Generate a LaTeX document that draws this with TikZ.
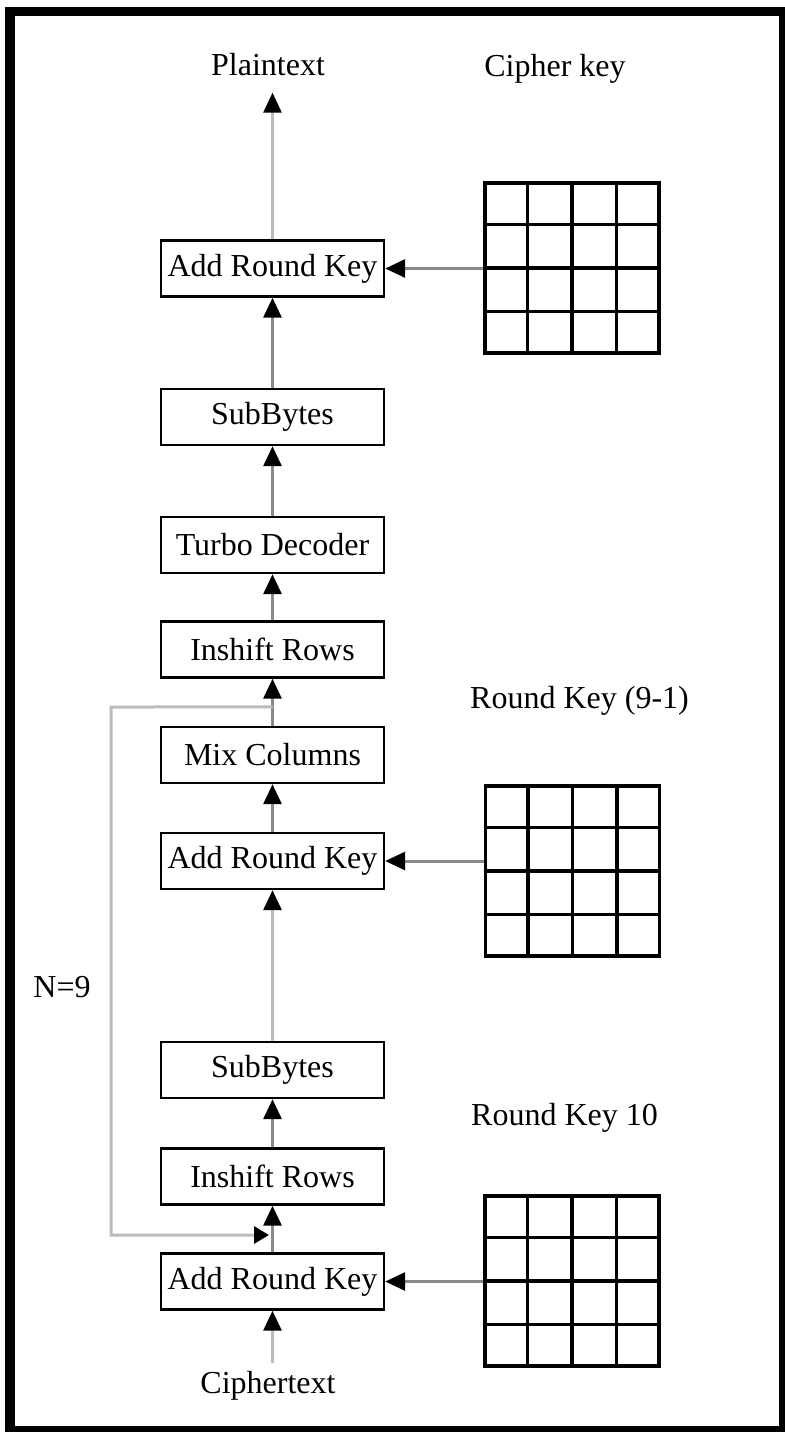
\documentclass[tikz,border=0pt]{standalone}
\usepackage{fontspec}
\setmainfont{Liberation Serif}
\usetikzlibrary{arrows.meta,calc}
\definecolor{linkdark}{HTML}{8A8A8A}
\definecolor{linklight}{HTML}{BBBBBB}

\begin{document}
\begin{tikzpicture}[x=0.5pt,y=-0.5pt,
  lettering/.style={font=\fontsize{16}{19}\selectfont},
  stage/.style={lettering, draw=black, line width=1.2pt, fill=white,
    minimum width=111.5pt, minimum height=28pt, inner sep=0pt},
  keygrid/.style={draw=black, line width=1.7pt, minimum width=87pt,
    minimum height=85pt, inner sep=0pt},
  gridline/.style={draw=black, line width=1.7pt},
  caption/.style={lettering, inner sep=0pt, anchor=base},
  flow/.style={draw=linkdark, line width=1.5pt,
    -{Triangle[length=10pt,width=9pt,color=black]}},
  feed/.style={flow, draw=linklight},
]
% frame
\useasboundingbox (0,0) rectangle (785,1435);
\fill[black] (5,7) rectangle (785,1432);
\fill[white] (15,16) rectangle (779,1426);

% processing chain (bottom to top)
\node[stage] (ark3) at (272.5,1281.5) {Add Round Key};
\node[stage] (ins2) at (272.5,1176.5) {Inshift Rows};
\node[stage] (sub2) at (272.5,1070)   {SubBytes};
\node[stage] (ark2) at (272.5,861)    {Add Round Key};
\node[stage] (mix)  at (272.5,755)    {Mix Columns};
\node[stage] (ins1) at (272.5,649.5)  {Inshift Rows};
\node[stage] (turbo) at (272.5,545)   {Turbo Decoder};
\node[stage] (sub1) at (272.5,417)    {SubBytes};
\node[stage] (ark1) at (272.5,268.5)  {Add Round Key};

% key matrices
\node[keygrid] (key1) at (572,268) {};
\node[keygrid] (key2) at (572.5,871) {};
\node[keygrid] (key3) at (572,1281) {};
\foreach \k in {key1,key2,key3}{
  \foreach \f in {0.25,0.5,0.75}{
    \draw[gridline] ($(\k.north west)!\f!(\k.north east)$) -- ($(\k.south west)!\f!(\k.south east)$);
    \draw[gridline] ($(\k.north west)!\f!(\k.south west)$) -- ($(\k.north east)!\f!(\k.south east)$);
  }
}

% captions
\node[caption] (pt) at (268,75) {Plaintext};
\node[caption] (ck) at (555,76) {Cipher key};
\node[caption] (rk9) at (579.5,708) {Round Key (9-1)};
\node[caption] (rk10) at (564.5,1125) {Round Key 10};
\node[caption] (nn) at (62,997) {N=9};
\node[caption] (ct) at (268,1393) {Ciphertext};

% data flow
\draw[feed, shorten <=3.5pt] (ark3.south |- ct.north) -- (ark3.south);
\draw[flow] (ark3) -- (ins2);
\draw[flow] (ins2) -- (sub2);
\draw[feed] (sub2) -- (ark2);
\draw[flow] (ark2) -- (mix);
\draw[flow] (mix) -- (ins1);
\draw[flow] (ins1) -- (turbo);
\draw[flow] (turbo) -- (sub1);
\draw[flow] (sub1) -- (ark1);
\draw[feed, shorten >=8.5pt] (ark1.north) -- (ark1.north |- pt.south);

% round keys into the Add Round Key stages
\draw[flow] (ark1.east -| key1.west) -- (ark1.east);
\draw[flow] (ark2.east -| key2.west) -- (ark2.east);
\draw[flow] (ark3.east -| key3.west) -- (ark3.east);

% round loop
\coordinate (split) at ($(ins1.south)!0.6!(mix.north)$);
\coordinate (merge) at (269,1235);
\draw[feed, -{Triangle[length=7.5pt,width=8.5pt,color=black]}]
  (split) -- (111,707) -- (111,1235) -- (merge);
\end{tikzpicture}
\end{document}
